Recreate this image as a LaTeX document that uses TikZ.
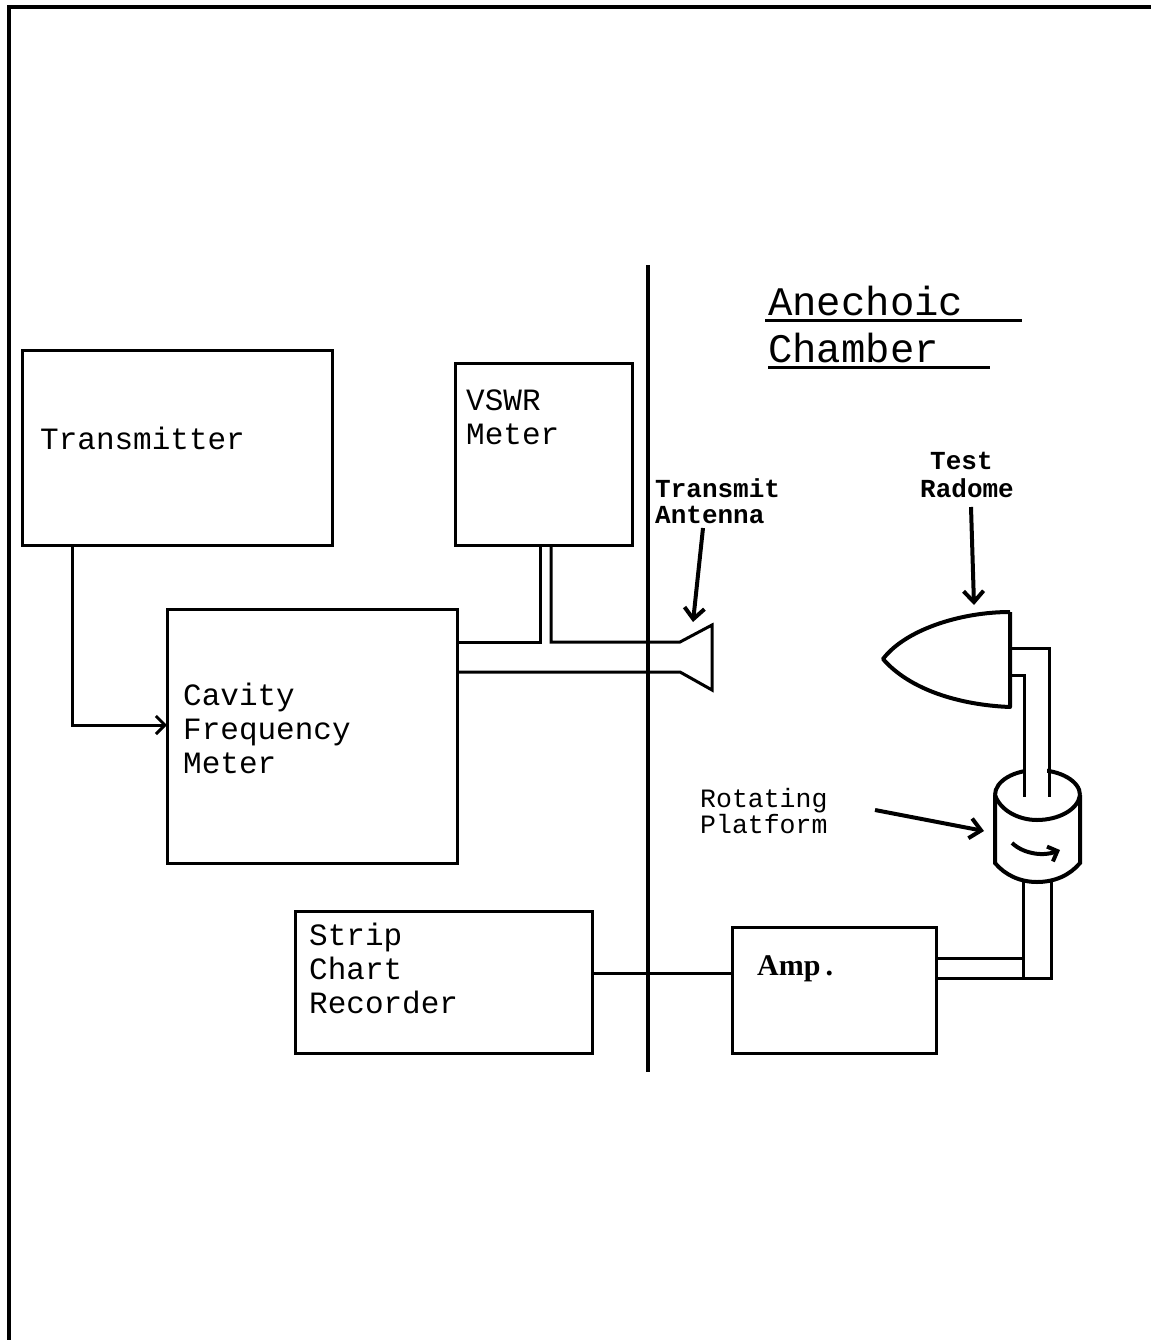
\documentclass[tikz,border=0pt]{standalone}
\usepackage{fontspec}
\setmainfont{Liberation Mono}
\newfontfamily\ampfont{Liberation Serif}
\usetikzlibrary{arrows.meta}
\tikzset{
  box/.style={draw,line width=3pt,inner sep=0pt},
  wire/.style={line width=3pt},
  pointer/.style={line width=4pt,-{Straight Barb[length=11pt,width=20pt,line width=4pt]}},
  lbl/.style={inner sep=0pt,anchor=base west,align=left,font=\fontsize{31}{34}\selectfont},
  small/.style={inner sep=0pt,anchor=base west,align=left,font=\fontsize{26.5}{26}\selectfont},
}
\begin{document}
\begin{tikzpicture}[x=1pt,y=-1pt]
\useasboundingbox (0,0) rectangle (1151,1340);
% frame
\draw[line width=4pt] (9,1340) -- (9,7) -- (1151,7);
% divider
\draw[line width=4.5pt] (648,265) -- (648,1072);
% boxes
\node[box,minimum width=310pt,minimum height=195pt] (tx) at (177,447.5) {};
\node[box,minimum width=177pt,minimum height=182pt] (vswr) at (543.5,454) {};
\node[box,minimum width=290pt,minimum height=254pt] (cfm) at (312,736) {};
\node[box,minimum width=297pt,minimum height=142pt] (scr) at (443.5,982) {};
\node[box,minimum width=204pt,minimum height=126pt] (amp) at (834,990) {};
% texts (base anchor = baseline of last line)
\node[lbl] (ttx) at (40,449) {Transmitter};
\node[lbl] (tvswr) at (466,444) {VSWR\\Meter};
\node[lbl] (tcfm) at (183,773) {Cavity\\Frequency\\Meter};
\node[lbl] (tscr) at (309,1013) {Strip\\Chart\\Recorder};
\node[inner sep=0pt,anchor=base west,font=\ampfont\bfseries\fontsize{30}{32}\selectfont] (tamp) at (757,975) {Amp\,.};
\node[inner sep=0pt,anchor=base west,align=left,font=\fontsize{40.6}{47}\selectfont] (tane) at (768,362) {Anechoic\\Chamber};
\draw[line width=3pt] (765,320) -- (1022,320);
\draw[line width=3pt] (768,367) -- (990,367);
\node[small,font=\bfseries\fontsize{26}{26}\selectfont] (tant) at (655,523) {Transmit\\Antenna};
\node[small,font=\bfseries\fontsize{26}{28}\selectfont] (ttest) at (930,469) {Test};
\node[small,font=\bfseries\fontsize{26}{28}\selectfont] (trad) at (920,497) {Radome};
\node[small] (trot) at (700,833) {Rotating\\Platform};
% transmitter -> cavity
\coordinate (c1) at (72,725);
\draw[wire,-{Straight Barb[length=9pt,width=18pt,line width=3pt]}] (72,545) -- (c1) -- (167,725);
% waveguide cavity -> horn, with VSWR stub
\coordinate (h1) at (712,625);
\coordinate (h2) at (712,690);
\draw[wire,line join=miter] (457,642) -- (540,642) -- (540,545);
\draw[wire,line join=miter] (551,545) -- (551,642) -- (680,642) -- (h1) -- (h2) -- (680,672) -- (457,672);
% strip chart -> amp
\draw[wire] (592,973) -- (732,973);
% amp -> platform waveguide
\draw[wire,line join=miter] (937,958) -- (1023,958);
\draw[wire,line join=miter] (1023,880) -- (1023,978);
\draw[wire,line join=miter] (937,978) -- (1051,978) -- (1051,880);
% radome
\draw[line width=4pt,line join=round] (1010,612) -- (1010,707) .. controls (960,705) and (910,690) .. (883,659) .. controls (905,630) and (960,612) .. (1010,612);
% cylinder (rotating platform)
\draw[line width=4pt] (995,795) .. controls (995,781) and (1014,770) .. (1037,770) .. controls (1060,770) and (1080,781) .. (1080,795);
\fill[white] (1026,760) rectangle (1047,800);
\draw[line width=4pt] (995,795) .. controls (1000,810) and (1018,820) .. (1037,820) .. controls (1058,820) and (1078,810) .. (1080,795);
\draw[line width=4pt] (995,795) -- (995,863) .. controls (1005,875) and (1020,882) .. (1037,882) .. controls (1055,882) and (1070,875) .. (1080,863) -- (1080,795);
\draw[line width=4pt,-{Straight Barb[length=8pt,width=16pt,line width=4pt]}] (1012,843) .. controls (1025,855) and (1045,856) .. (1060,850);
% radome waveguide
\draw[wire,line join=miter] (1010,648) -- (1049,648) -- (1049,797);
\draw[wire,line join=miter] (1010,675) -- (1024,675) -- (1024,797);
% pointer arrows
\draw[pointer] (703,528) -- (693,622);
\draw[pointer] (971,507) -- (974,605);
\draw[pointer] (875,810) -- (984,831);
\end{tikzpicture}
\end{document}
